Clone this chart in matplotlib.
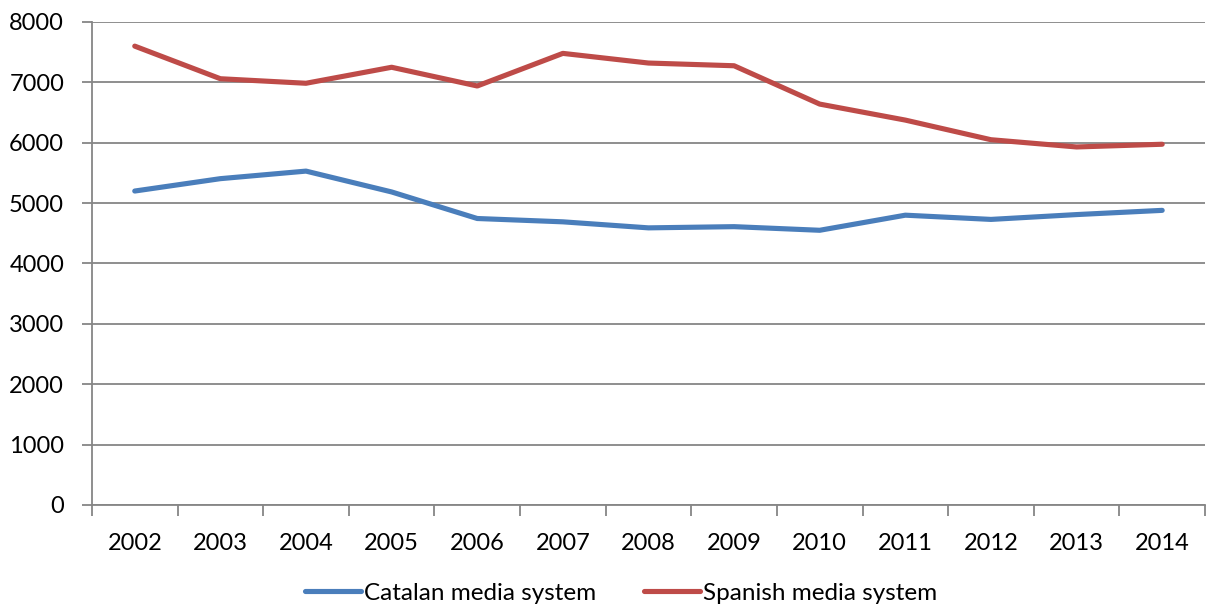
import numpy as np
import matplotlib
matplotlib.use("Agg")
import matplotlib.pyplot as plt

years = ["2002", "2003", "2004", "2005", "2006", "2007", "2008",
         "2009", "2010", "2011", "2012", "2013", "2014"]
catalan = [5200, 5405, 5530, 5185, 4745, 4690, 4590, 4610, 4550, 4800, 4730, 4810, 4880]
spanish = [7600, 7060, 6985, 7250, 6940, 7480, 7320, 7275, 6640, 6375, 6050, 5930, 5975]

blue = "#4A7EBB"
red = "#BE4B48"
grid_grey = "#868686"

plt.rcParams['font.family'] = ['Lato', 'DejaVu Sans']

fig = plt.figure(figsize=(12.13, 6.09), dpi=100)
ax = fig.add_axes([0.0758, 0.1708, 0.9176, 0.7931])

x = np.arange(len(years))
ax.plot(x, catalan, color=blue, lw=3.7, solid_capstyle='round',
        solid_joinstyle='round', label="Catalan media system", zorder=3)
ax.plot(x, spanish, color=red, lw=3.7, solid_capstyle='round',
        solid_joinstyle='round', label="Spanish media system", zorder=3)

ax.set_xlim(-0.5, len(years) - 0.5)
ax.set_ylim(0, 8000)
ax.set_yticks(np.arange(0, 8001, 1000))
ax.yaxis.grid(True, color=grid_grey, lw=1.3)
ax.set_axisbelow(True)

# category labels centred, tick marks between categories
ax.set_xticks(x)
ax.set_xticklabels(years)
ax.set_xticks(np.arange(-0.5, len(years)), minor=True)
ax.tick_params(axis='x', which='major', length=0, pad=20, labelsize=17)
ax.tick_params(axis='x', which='minor', length=8, width=1.3, color=grid_grey, direction='out')
ax.tick_params(axis='y', length=7, width=1.3, color=grid_grey, pad=13, labelsize=17)

for side in ['top', 'right']:
    ax.spines[side].set_visible(False)
for side in ['left', 'bottom']:
    ax.spines[side].set_color(grid_grey)
    ax.spines[side].set_linewidth(1.3)

fig.legend(loc='center', bbox_to_anchor=(0.512, 0.026), ncol=2, frameon=False,
           fontsize=17.5, handlelength=2.3, handletextpad=0.1, columnspacing=2.0,
           borderpad=0.0)

fig.savefig("out.png", dpi=100)
